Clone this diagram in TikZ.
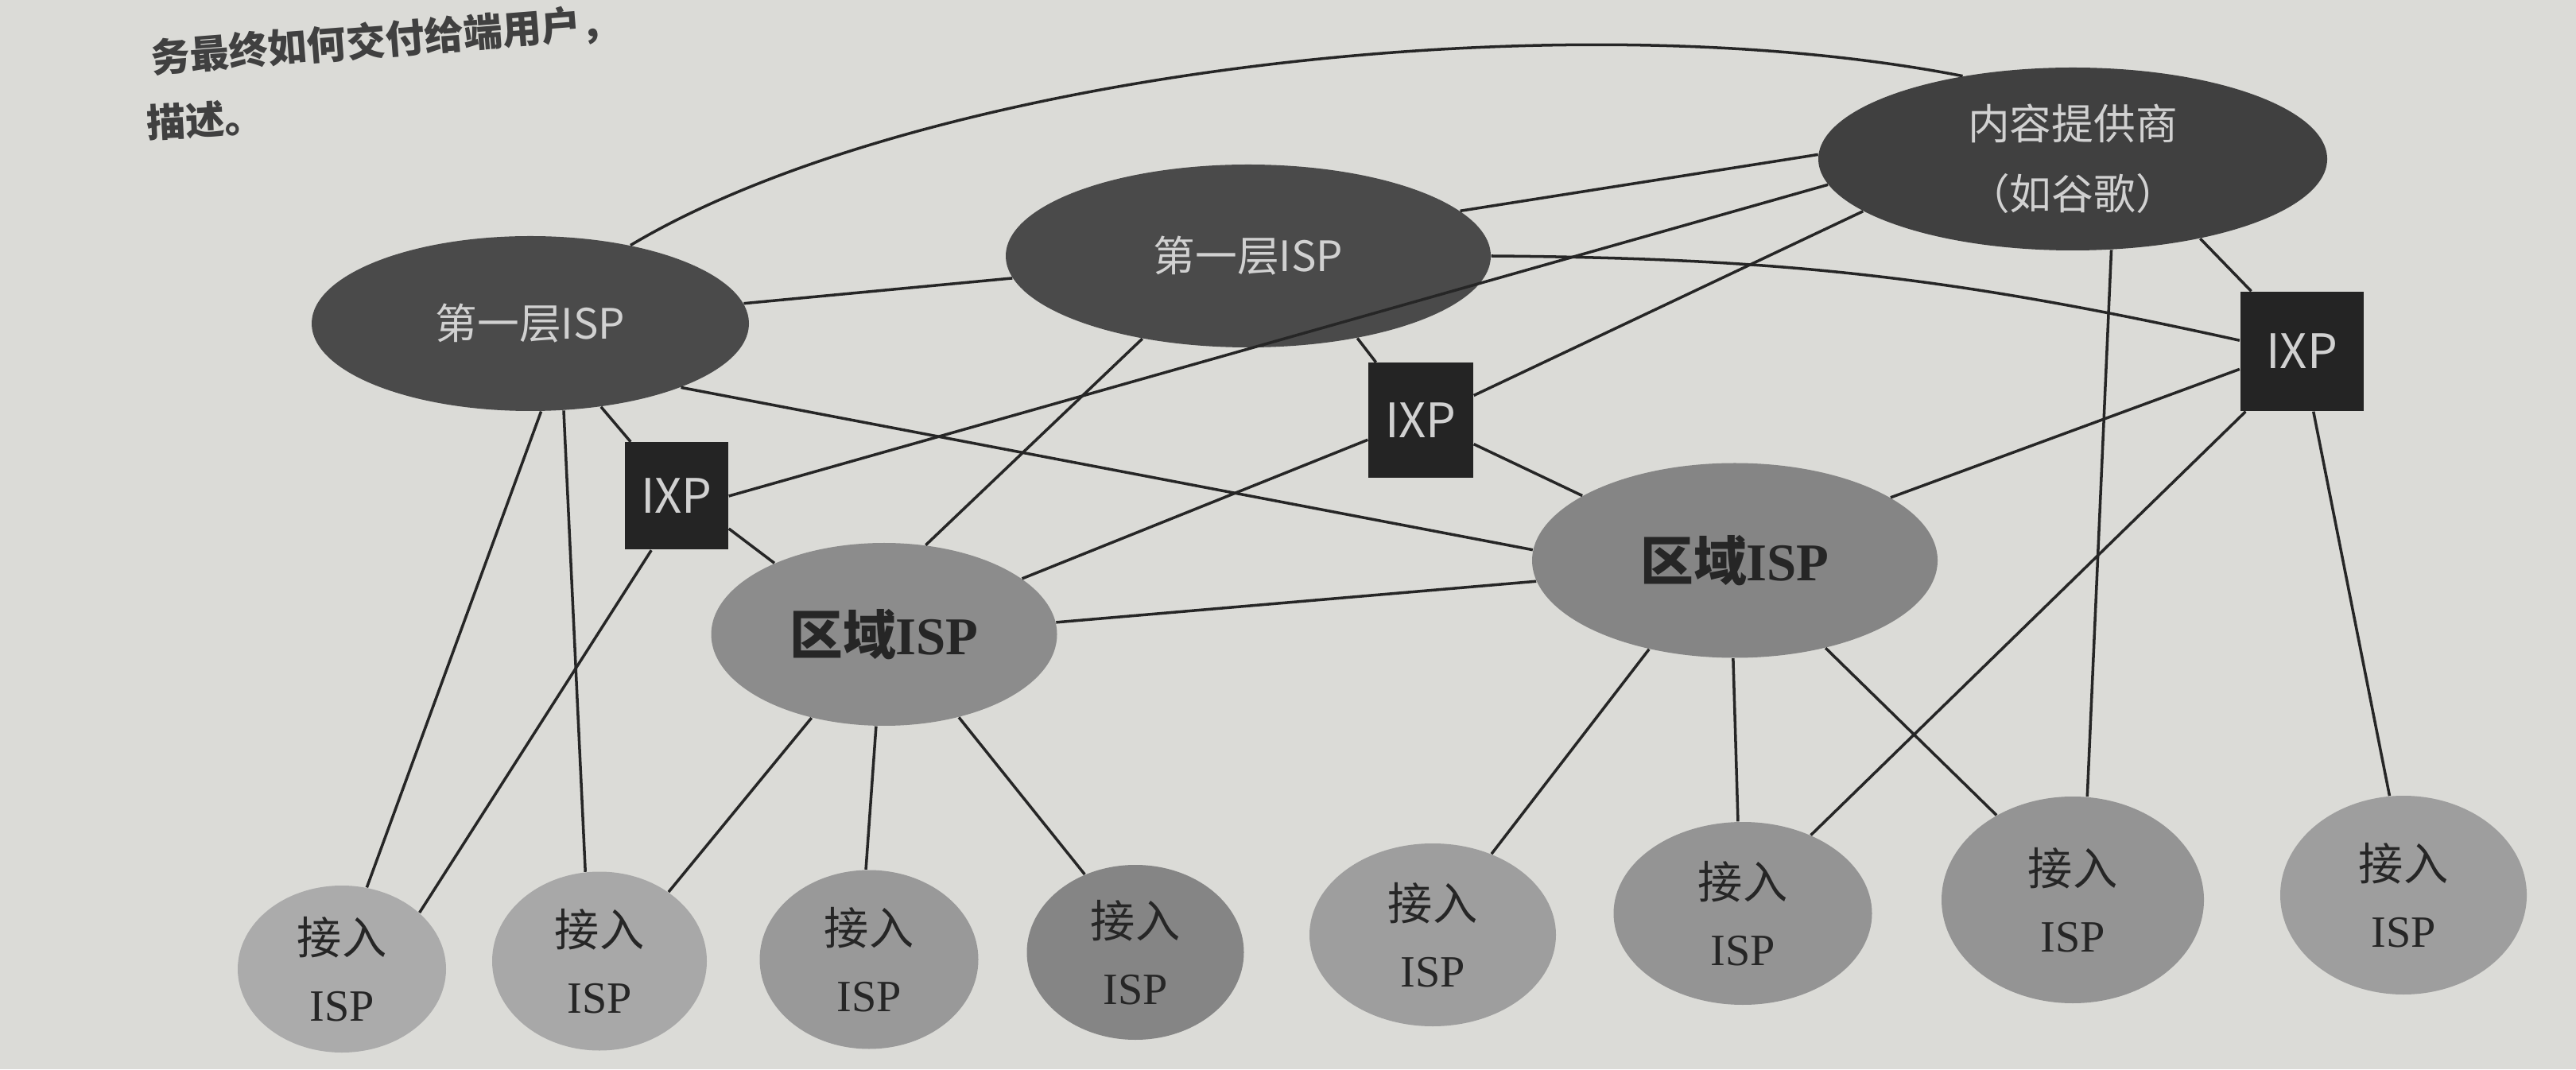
\documentclass[tikz,border=0pt]{standalone}
\usepackage{fontspec}
\setmainfont{Liberation Serif}
\newfontfamily\cjk{Noto Sans CJK SC}
\usetikzlibrary{shapes.geometric}
\definecolor{paper}{RGB}{219,219,215}
\definecolor{ink}{RGB}{38,38,38}

\begin{document}
\begin{tikzpicture}[tnode/.style={ellipse,fill=black!71,text=white!82!black,inner sep=0pt,font=\cjk\fontsize{15}{25}\selectfont},
	xnode/.style={rectangle,fill=black!86,text=white!82!black,inner sep=0pt,minimum width=1.32cm,minimum height=1.45cm,font=\cjk\fontsize{17}{20}\selectfont},
	rnode/.style={ellipse,fill=black!48,text=ink,inner sep=0pt,font=\fontsize{19}{22}\selectfont\bfseries},
	anode/.style={ellipse,fill=black!38,text=ink,inner sep=0pt,align=center,font=\fontsize{16}{24}\selectfont},
	link/.style={line width=1pt,draw=ink}]
	\clip (0,0) rectangle (32.4,13.45);
	\fill[paper] (0,0) rectangle (32.4,13.45);
	% text of the page above the figure
	\node[anchor=west,rotate=4.5,text=black!75,font=\cjk\fontsize{14}{16}\selectfont\bfseries] (para1) at (1.78,12.70) {务最终如何交付给端用户，};
	\node[anchor=west,rotate=3,text=black!75,font=\cjk\fontsize{14}{16}\selectfont\bfseries] (para2) at (1.72,11.90) {描述。};
	% tier 1 and content provider
	\node[tnode,minimum width=5.5cm,minimum height=2.2cm] (tier1a) at (6.67,9.38) {第一层ISP};
	\node[tnode,minimum width=6.1cm,minimum height=2.3cm] (tier1b) at (15.70,10.23) {第一层ISP};
	\node[tnode,fill=black!75,align=center,minimum width=6.4cm,minimum height=2.3cm] (google) at (26.07,11.45) {内容提供商\\（如谷歌）};
	% IXPs
	\node[xnode,minimum width=1.3cm,minimum height=1.35cm] (ixpa) at (8.51,7.21) {IXP};
	\node[xnode] (ixpb) at (17.87,8.16) {IXP};
	\node[xnode,minimum width=1.55cm,minimum height=1.5cm] (ixpc) at (28.95,9.03) {IXP};
	% regional
	\node[rnode,fill=black!45,minimum width=4.35cm,minimum height=2.3cm] (rega) at (11.12,5.47) {{\cjk 区域}ISP};
	\node[rnode,minimum width=5.1cm,minimum height=2.45cm] (regb) at (21.82,6.40) {{\cjk 区域}ISP};
	% access
	\node[anode,fill=black!33,minimum width=2.62cm,minimum height=2.1cm] (acc1) at (4.30,1.26) {{\cjk 接入}\\ISP};
	\node[anode,fill=black!34,minimum width=2.7cm,minimum height=2.25cm] (acc2) at (7.54,1.36) {{\cjk 接入}\\ISP};
	\node[anode,fill=black!40,minimum width=2.75cm,minimum height=2.25cm] (acc3) at (10.93,1.38) {{\cjk 接入}\\ISP};
	\node[anode,fill=black!48,minimum width=2.73cm,minimum height=2.2cm] (acc4) at (14.28,1.47) {{\cjk 接入}\\ISP};
	\node[anode,minimum width=3.1cm,minimum height=2.3cm] (acc5) at (18.02,1.69) {{\cjk 接入}\\ISP};
	\node[anode,fill=black!42,minimum width=3.25cm,minimum height=2.3cm] (acc6) at (21.92,1.96) {{\cjk 接入}\\ISP};
	\node[anode,fill=black!42,minimum width=3.3cm,minimum height=2.6cm] (acc7) at (26.07,2.13) {{\cjk 接入}\\ISP};
	\node[anode,minimum width=3.1cm,minimum height=2.5cm] (acc8) at (30.23,2.19) {{\cjk 接入}\\ISP};
	% links
	\draw[link] (tier1a.38) .. controls (11.5,12.5) and (19.5,13.5) .. (google.143);
	\draw[link] (tier1a) -- (tier1b);
	\draw[link] (tier1a) -- (ixpa);
	\draw[link] (tier1a.-83) -- (acc1.73);
	\draw[link] (tier1a.-69) -- (acc2.99);
	\draw[link] (tier1a.-23) -- (regb.177);
	\draw[link] (tier1b.12) -- (google.179);
	\draw[link] (tier1b.-37) -- (ixpb);
	\draw[link] (tier1b.218) -- (rega.65);
	\draw[link] (tier1b.east) to [bend left=6] (ixpc.170);
	\draw[link] (google.186) -- (ixpa.east);
	\draw[link] (google.194) -- (ixpb);
	\draw[link] (google.-32) -- (ixpc.130);
	\draw[link] (google.-67) -- (acc7.82);
	\draw[link] (ixpa.-32) -- (rega.147);
	\draw[link] (ixpa.-115) -- (acc1.36);
	\draw[link] (ixpb.200) -- (rega.22);
	\draw[link] (ixpb.-24) -- (regb.157);
	\draw[link] (ixpc.196) -- (regb.22);
	\draw[link] (ixpc.227) -- (acc6.49);
	\draw[link] (ixpc.-79) -- (acc8.98);
	\draw[link] (rega.4) -- (regb.186);
	\draw[link] (rega.229) -- (acc2.45);
	\draw[link] (rega.265) -- (acc3.92);
	\draw[link] (rega.-48) -- (acc4.123);
	\draw[link] (regb.226) -- (acc5.54);
	\draw[link] (regb.269) -- (acc6.93);
	\draw[link] (regb.-44) -- (acc7.132);
\end{tikzpicture}
\end{document}
